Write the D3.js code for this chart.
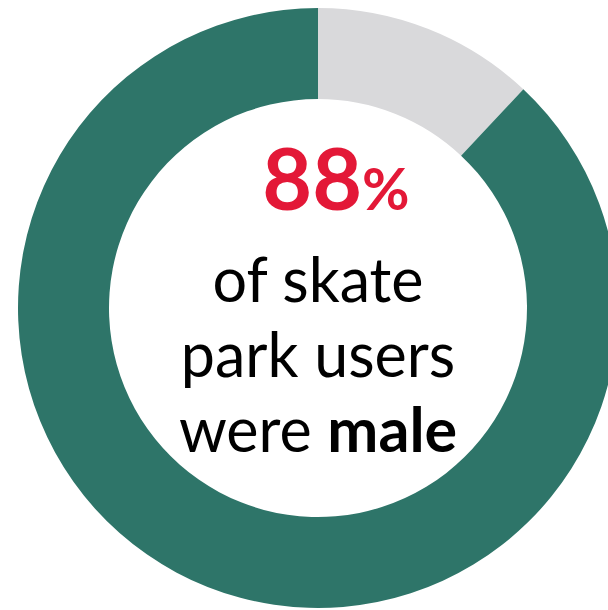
<!DOCTYPE html>
<html>
<head>
<meta charset="utf-8">
<script src="https://cdn.jsdelivr.net/npm/d3@7"></script>
<style>
  html, body { margin: 0; padding: 0; background: #fff; overflow: hidden; }
  svg { display: block; }
</style>
</head>
<body>
<svg id="chart" width="608" height="610"></svg>
<script>
// Share of skate park users by gender
const categories = ["Female", "Male"];
const shares = [12, 88];
const colors = ["#d9d9db", "#2e7569"];
const headline = "88";
const headlineUnit = "%";
const captionLines = [["of skate"], ["park users"], ["were ", "male"]];

const svg = d3.select("#chart");
const cx = 318, cy = 308;
const outerR = 300, innerR = 209;

const pie = d3.pie().sort(null).value(d => d.v);
const arcs = pie(categories.map((c, i) => ({ c, v: shares[i] })));
const arc = d3.arc().innerRadius(innerR).outerRadius(outerR);

const g = svg.append("g").attr("transform", `translate(${cx},${cy})`);
g.selectAll("path")
  .data(arcs)
  .join("path")
  .attr("d", arc)
  .attr("fill", (d, i) => colors[i]);

const font = "Lato, 'Source Sans Pro', sans-serif";

const big = g.append("text")
  .attr("x", 18)
  .attr("y", -98)
  .attr("text-anchor", "middle")
  .attr("font-family", font)
  .attr("font-weight", 700)
  .attr("fill", "#e31837");
big.append("tspan").attr("font-size", 86).text(headline);
big.append("tspan").attr("font-size", 58).text(headlineUnit);

const baselines = [-6, 69, 144];
captionLines.forEach((parts, i) => {
  const t = g.append("text")
    .attr("x", 0)
    .attr("y", baselines[i])
    .attr("text-anchor", "middle")
    .attr("font-family", font)
    .attr("font-size", 61)
    .attr("fill", "#000");
  parts.forEach((p, j) => {
    t.append("tspan")
      .attr("font-weight", (i === 2 && j === 1) ? 700 : 400)
      .text(p);
  });
});
</script>
</body>
</html>
